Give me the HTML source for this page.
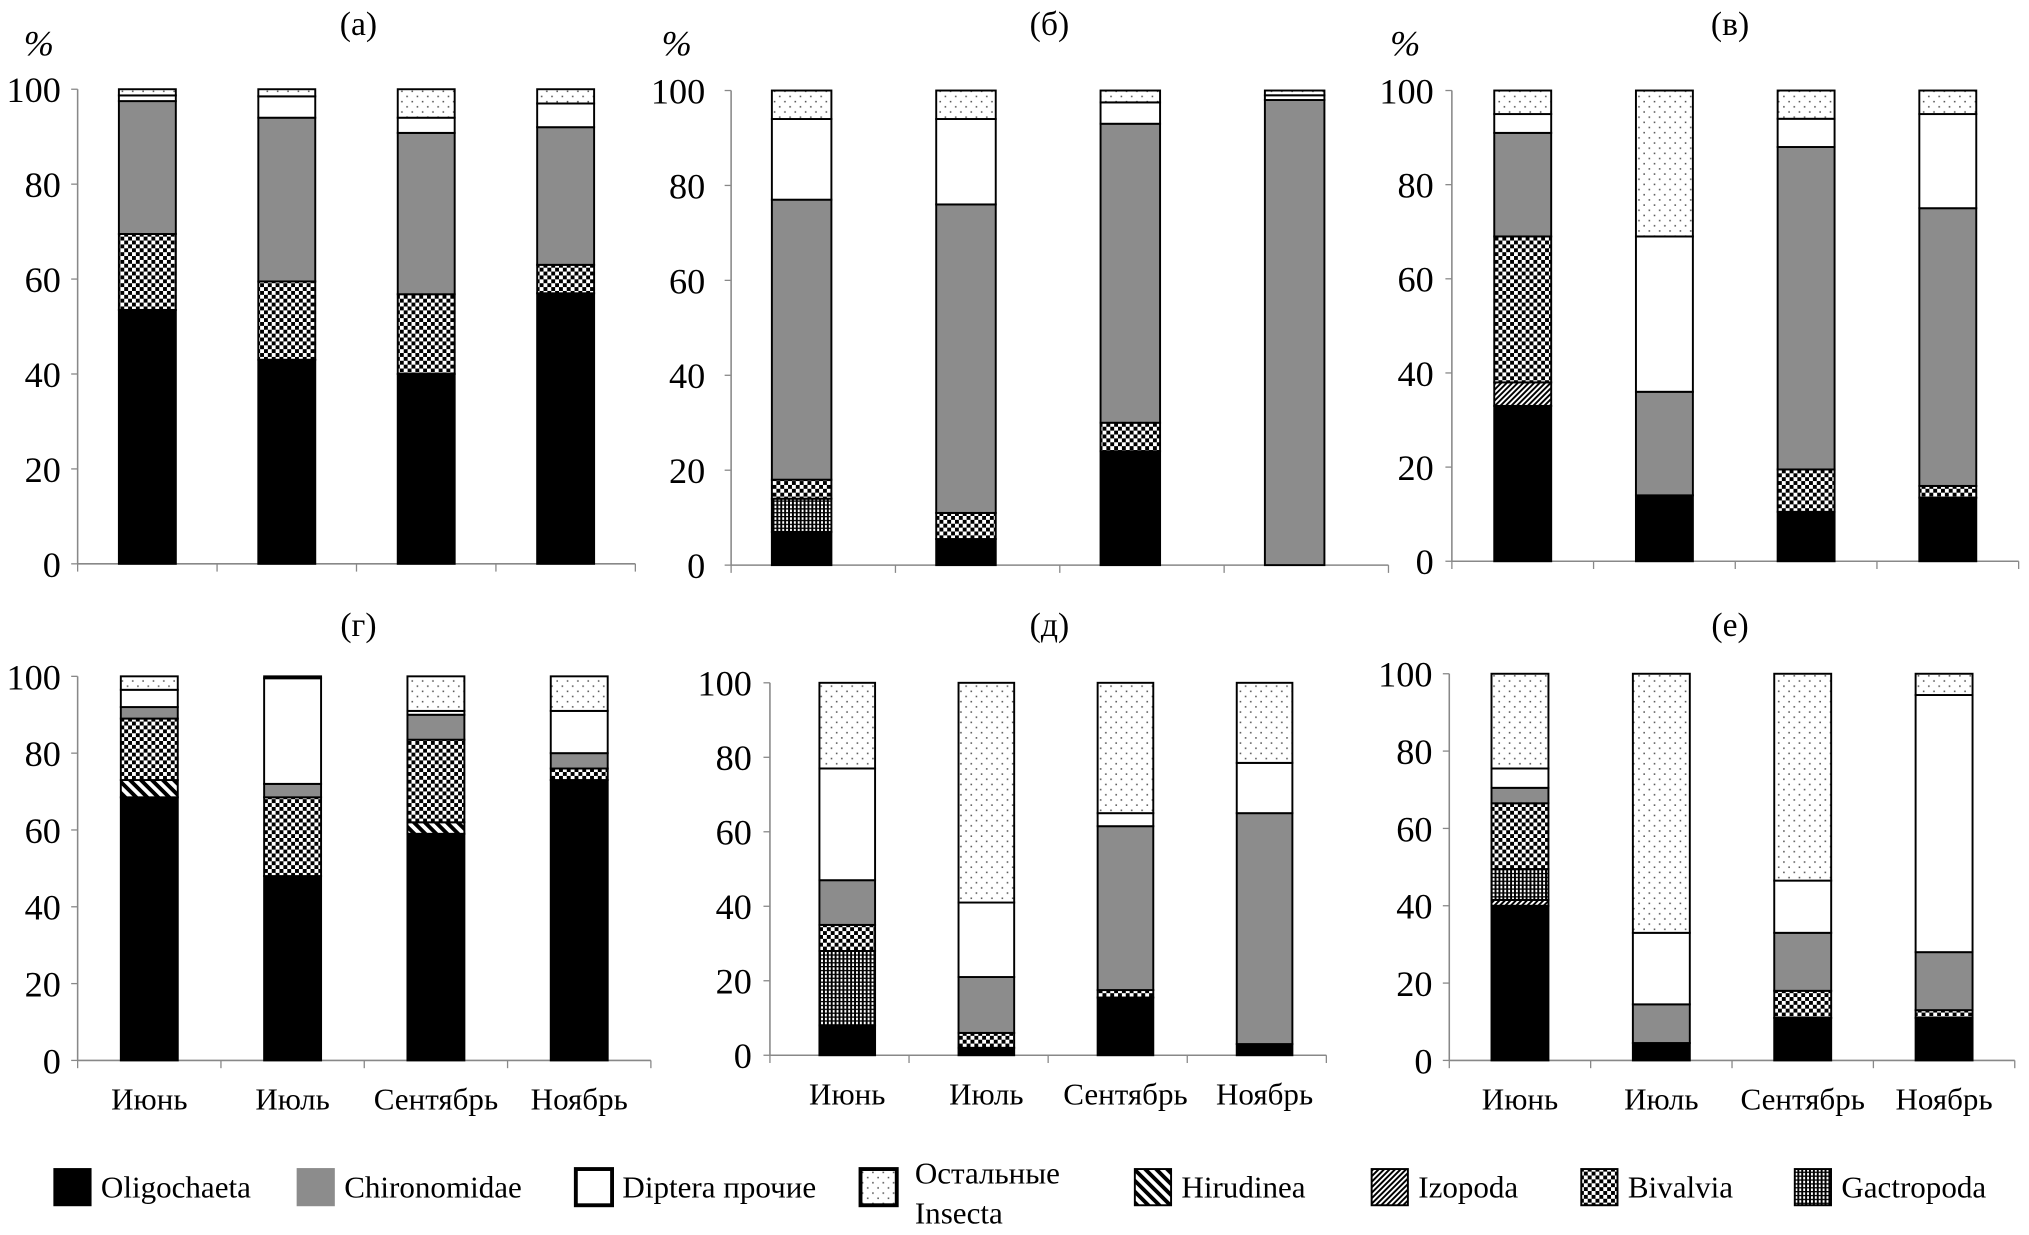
<!DOCTYPE html>
<html><head><meta charset="utf-8"><style>
html,body{margin:0;padding:0;background:#fff}
svg{display:block}
text{font-family:"Liberation Serif",serif;fill:#000}
</style></head><body>
<svg id="chart" width="2029" height="1235" viewBox="0 0 1568 955" preserveAspectRatio="none" xmlns="http://www.w3.org/2000/svg">
<defs>
<pattern id="p-checker" width="6" height="6" patternUnits="userSpaceOnUse"><rect width="6" height="6" fill="#fff"/><rect width="3" height="3" fill="#000"/><rect x="3" y="3" width="3" height="3" fill="#000"/></pattern>
<pattern id="p-dots" width="8" height="8" patternUnits="userSpaceOnUse"><rect width="8" height="8" fill="#fff"/><rect x="2" y="2" width="1.2" height="1.2" fill="#555"/><rect x="6" y="6" width="1.2" height="1.2" fill="#555"/></pattern>
<pattern id="p-hir" width="6" height="6" patternUnits="userSpaceOnUse" patternTransform="rotate(45)"><rect width="6" height="6" fill="#fff"/><rect width="6" height="3" fill="#000"/></pattern>
<pattern id="p-iz" width="3" height="3" patternUnits="userSpaceOnUse" patternTransform="rotate(-45)"><rect width="3" height="3" fill="#fff"/><rect width="3" height="1.5" fill="#000"/></pattern>
<pattern id="p-grid" width="3" height="3" patternUnits="userSpaceOnUse"><rect width="3" height="3" fill="#fff"/><rect width="1.5" height="3" fill="#000"/><rect width="3" height="1" fill="#000"/></pattern>
</defs>
<g id="plots"></g>
<g id="legend"></g>
</svg>
<script>
const months = ["Июнь","Июль","Сентябрь","Ноябрь"];
const seriesNames = ["Oligochaeta","Hirudinea","Izopoda","Gactropoda","Bivalvia","Chironomidae","Diptera прочие","Остальные Insecta"];
const tickLabels = [0,20,40,60,80,100];
const dataA = [[53.5,0,0,0,16,28,1.2,1.3],[43,0,0,0,16.5,34.5,4.5,1.5],[40,0,0,0,16.8,34,3.2,6],[57,0,0,0,6,29,5,3]];
const dataB = [[7,0,0,7,4,59,17,6],[5.5,0,0,0,5.5,65,18,6],[24,0,0,0,6,63,4.5,2.5],[0,0,0,0,0,98,1,1]];
const dataV = [[33,0,5,0,31,22,4,5],[14,0,0,0,0,22,33,31],[10.5,0,0,0,9,68.5,6,6],[13.5,0,0,0,2.5,59,20,5]];
const dataG = [[68.5,4.5,0,0,16,3,4.5,3.5],[48,0,0,0,20.5,3.5,27.5,0.5],[59,3,0,0,21.5,6.5,1,9],[73,0,0,0,3,4,11,9]];
const dataD = [[8,0,0,20,7,12,30,23],[2,0,0,0,4,15,20,59],[15.5,0,0,0,2,44,3.5,35],[3,0,0,0,0,62,13.5,21.5]];
const dataE = [[40,0,1.5,8,17,4,5,24.5],[4.5,0,0,0,0,10,18.5,67],[11,0,0,0,7,15,13.5,53.5],[11,0,0,0,2,15,66.5,5.5]];
const titles = ["(а)","(б)","(в)","(г)","(д)","(е)"];

const fills = ["#000","url(#p-hir)","url(#p-iz)","url(#p-grid)","url(#p-checker)","#8c8c8c","#fff","url(#p-dots)"];
const panels = [
 {d:dataA,ax:60,x1:491,off:0,y100:69,y0:436,bw:44,tx:277,ty:18,pct:[30,33],lab:47,xl:false},
 {d:dataB,ax:565,x1:1073,off:-9,y100:70,y0:437,bw:46,tx:811,ty:18,pct:[523,33],lab:545,xl:false},
 {d:dataV,ax:1122,x1:1560,off:0,y100:70,y0:434,bw:44,tx:1337,ty:18,pct:[1086,33],lab:1108,xl:false},
 {d:dataG,ax:60,x1:503,off:0,y100:523,y0:820,bw:44,tx:277,ty:483,pct:null,lab:47,xl:true},
 {d:dataD,ax:595,x1:1025,off:6,y100:528,y0:816,bw:43,tx:811,ty:483,pct:null,lab:581,xl:true},
 {d:dataE,ax:1120,x1:1557,off:0,y100:521,y0:820,bw:44,tx:1337,ty:483,pct:null,lab:1107,xl:true}
];
const NS="http://www.w3.org/2000/svg";
function mk(tag,attrs,parent){const e=document.createElementNS(NS,tag);for(const k in attrs)e.setAttribute(k,attrs[k]);parent.appendChild(e);return e;}
const plots=document.getElementById('plots');
panels.forEach((p,pi)=>{
 const g=mk('g',{},plots);
 
 
 const y=v=>p.y0-(p.y0-p.y100)*v/100;
 const cw=(p.x1-p.ax)/months.length;
 const xc=i=>p.ax+cw*(i+0.5)+p.off;
 const t=mk('text',{x:p.tx,y:p.ty+9,'font-size':26,'text-anchor':'middle'},g);t.textContent=titles[pi];
 
 
 if(p.pct){const pc=mk('text',{x:p.pct[0],y:p.pct[1]+10,'font-size':28,'text-anchor':'middle','font-style':'italic'},g);pc.textContent='%';
  
  }
 tickLabels.forEach(v=>{const tl=mk('text',{x:p.lab,y:y(v)+10,'font-size':28,'text-anchor':'end'},g);tl.textContent=v;
  
  
  mk('line',{x1:p.ax-5,x2:p.ax,y1:y(v),y2:y(v),stroke:'#888','stroke-width':1},g);});
 mk('line',{x1:p.ax,x2:p.ax,y1:y(100),y2:y(0),stroke:'#888','stroke-width':1.2},g);
 mk('line',{x1:p.ax,x2:p.x1,y1:y(0),y2:y(0),stroke:'#888','stroke-width':1.2},g);
 for(let i=0;i<=months.length;i++)mk('line',{x1:p.ax+cw*i,x2:p.ax+cw*i,y1:y(0),y2:y(0)+6,stroke:'#888','stroke-width':1},g);
 p.d.forEach((vals,mi)=>{
  let acc=0;
  vals.forEach((v,si)=>{
   if(v<=0)return;
   const r=mk('rect',{x:xc(mi)-p.bw/2,y:y(acc+v),width:p.bw,height:y(acc)-y(acc+v),fill:fills[si],stroke:'#000','stroke-width':1.5},g);
   
   
   acc+=v;
  });
  if(p.xl){const xl=mk('text',{x:xc(mi),y:y(0)+38,'font-size':24,'text-anchor':'middle'},g);xl.textContent=months[mi];
   
   }
 });
});
const leg=document.getElementById('legend');
const legOrder=[0,5,6,7,1,2,4,3];
const legX=[42,230,445,665,877,1060,1222,1387];
legOrder.forEach((si,k)=>{
 const x=legX[k];
 const sw=mk('rect',{x:x,y:904,width:28,height:28,fill:fills[si],stroke:si===5?'#8c8c8c':'#000','stroke-width':si===6||si===7?3:1.5},leg);
 
 
 if(si===7){
  const a=mk('text',{x:x+42,y:915,'font-size':24},leg);a.textContent='Остальные';
  
  
  const b=mk('text',{x:x+42,y:946,'font-size':24},leg);b.textContent='Insecta';
  
  
 } else {
  const tx=mk('text',{x:x+36,y:926,'font-size':24},leg);tx.textContent=seriesNames[si];
  
  
 }
});
</script>
</body></html>
